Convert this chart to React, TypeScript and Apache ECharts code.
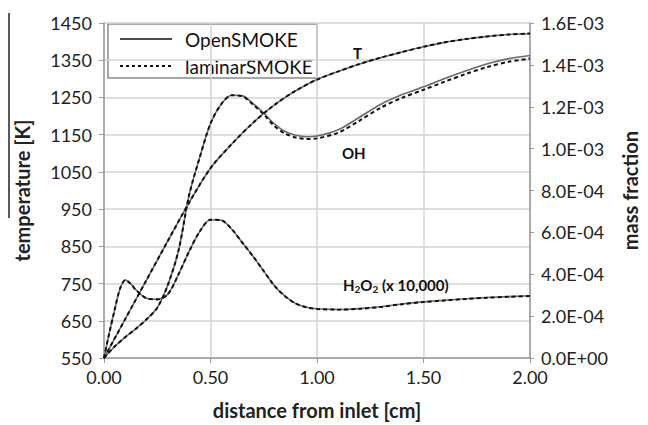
import { useEffect, useRef } from "react";
import * as echarts from "echarts";

// distance from inlet [cm]
const tX = [0, 0.1, 0.2, 0.3, 0.4, 0.5, 0.6, 0.7, 0.8, 0.9, 1.0, 1.1, 1.2, 1.3, 1.4, 1.5, 1.6, 1.7, 1.8, 1.9, 2.0];
const tOpen = [550, 655, 760, 865, 968, 1060, 1125, 1182, 1230, 1268, 1298, 1320, 1340, 1357, 1372, 1386, 1398, 1407, 1414, 1419, 1421];
const tLaminar = [550, 655, 760, 865, 968, 1060, 1125, 1182, 1230, 1268, 1298, 1320, 1340, 1357, 1372, 1386, 1398, 1407, 1414, 1419, 1422];

const ohX = [0, 0.05, 0.1, 0.15, 0.2, 0.25, 0.3, 0.35, 0.4, 0.45, 0.5, 0.55, 0.6, 0.65, 0.7, 0.75, 0.8, 0.85, 0.9, 0.95, 1.0, 1.1, 1.2, 1.3, 1.4, 1.5, 1.6, 1.7, 1.8, 1.9, 2.0];
const ohOpen = [0, 0.55e-4, 1.0e-4, 1.4e-4, 1.85e-4, 2.4e-4, 3.5e-4, 5.14e-4, 7.8e-4, 9.6e-4, 1.12e-3, 1.212e-3, 1.255e-3, 1.252e-3, 1.215e-3, 1.17e-3, 1.118e-3, 1.082e-3, 1.064e-3, 1.057e-3, 1.06e-3, 1.09e-3, 1.15e-3, 1.212e-3, 1.258e-3, 1.295e-3, 1.335e-3, 1.372e-3, 1.405e-3, 1.43e-3, 1.445e-3];
const ohLaminar = [0, 0.55e-4, 1.0e-4, 1.4e-4, 1.85e-4, 2.4e-4, 3.5e-4, 5.14e-4, 7.8e-4, 9.6e-4, 1.12e-3, 1.212e-3, 1.255e-3, 1.25e-3, 1.21e-3, 1.163e-3, 1.108e-3, 1.072e-3, 1.053e-3, 1.046e-3, 1.049e-3, 1.076e-3, 1.134e-3, 1.196e-3, 1.243e-3, 1.281e-3, 1.32e-3, 1.357e-3, 1.39e-3, 1.415e-3, 1.43e-3];

// H2O2 mass fraction (x 10,000)
const h2o2X = [0, 0.025, 0.05, 0.075, 0.1, 0.125, 0.15, 0.2, 0.25, 0.3, 0.35, 0.4, 0.45, 0.5, 0.55, 0.6, 0.65, 0.7, 0.75, 0.8, 0.85, 0.9, 0.95, 1.0, 1.1, 1.2, 1.3, 1.4, 1.5, 1.6, 1.7, 1.8, 1.9, 2.0];
const h2o2Open = [0, 1.2e-4, 2.3e-4, 3.3e-4, 3.72e-4, 3.55e-4, 3.25e-4, 2.85e-4, 2.8e-4, 3.05e-4, 4.0e-4, 5.1e-4, 6.05e-4, 6.6e-4, 6.58e-4, 6.15e-4, 5.5e-4, 4.85e-4, 4.15e-4, 3.45e-4, 2.95e-4, 2.6e-4, 2.42e-4, 2.35e-4, 2.32e-4, 2.36e-4, 2.45e-4, 2.58e-4, 2.68e-4, 2.76e-4, 2.83e-4, 2.89e-4, 2.93e-4, 2.97e-4];
const h2o2Laminar = [0, 1.2e-4, 2.3e-4, 3.3e-4, 3.72e-4, 3.55e-4, 3.25e-4, 2.85e-4, 2.8e-4, 3.05e-4, 4.0e-4, 5.1e-4, 6.05e-4, 6.6e-4, 6.58e-4, 6.15e-4, 5.5e-4, 4.85e-4, 4.15e-4, 3.45e-4, 2.95e-4, 2.6e-4, 2.42e-4, 2.34e-4, 2.31e-4, 2.35e-4, 2.44e-4, 2.57e-4, 2.67e-4, 2.75e-4, 2.82e-4, 2.88e-4, 2.92e-4, 2.96e-4];

const legendNames = ["OpenSMOKE", "laminarSMOKE"];
const xTitle = "distance from inlet [cm]";
const yLeftTitle = "temperature [K]";
const yRightTitle = "mass fraction";

const FONT = "Lato";

function sci(v: number): string {
  if (Math.abs(v) < 1e-12) return "0.0E+00";
  const e = Math.floor(Math.log10(Math.abs(v)) + 1e-9);
  const m = v / Math.pow(10, e);
  const sign = e < 0 ? "-" : "+";
  return m.toFixed(1) + "E" + sign + String(Math.abs(e)).padStart(2, "0");
}

const pairs = (xs: number[], ys: number[]) => xs.map((x, i) => [x, ys[i]]);

export default function App() {
  const ref = useRef<HTMLDivElement>(null);
  useEffect(() => {
    if (!ref.current) return;
    const chart = echarts.init(ref.current, null, { renderer: "svg" });
    const solid = { color: "#6b6b6b", width: 1.6, type: "solid" as const };
    const dashed = { color: "#111", width: 2, type: [4, 3] as any };
    const mkSeries = (name: string, data: number[][], yAxisIndex: number, ls: any) => ({
      name,
      type: "line",
      data,
      yAxisIndex,
      showSymbol: false,
      smooth: 0.3,
      lineStyle: ls,
      silent: true,
      z: ls === dashed ? 4 : 3,
    });
    chart.setOption({
      animation: false,
      backgroundColor: "#fff",
      grid: { left: 104, right: 107, top: 23, bottom: 63 },
      xAxis: {
        type: "value",
        min: 0,
        max: 2,
        interval: 0.5,
        name: xTitle,
        nameLocation: "middle",
        nameGap: 42,
        nameTextStyle: { fontFamily: FONT, fontSize: 20, fontWeight: "bold", color: "#222" },
        axisLine: { show: true, lineStyle: { color: "#9a9a9a", width: 1.5 } },
        axisTick: { show: true, length: 5, lineStyle: { color: "#9a9a9a" } },
        axisLabel: { fontFamily: FONT, fontSize: 18, color: "#222", margin: 10, formatter: (v: number) => v.toFixed(2) },
        splitLine: { show: true, lineStyle: { color: "#d3d3d3", width: 1.5 } },
      },
      yAxis: [
        {
          type: "value",
          min: 550,
          max: 1450,
          interval: 100,
          name: yLeftTitle,
          nameLocation: "middle",
          nameGap: 72,
          nameRotate: 90,
          nameTextStyle: { fontFamily: FONT, fontSize: 20, fontWeight: "bold", color: "#222" },
          axisLine: { show: true, lineStyle: { color: "#9a9a9a", width: 1.5 } },
          axisTick: { show: true, length: 5, lineStyle: { color: "#9a9a9a" } },
          axisLabel: { fontFamily: FONT, fontSize: 18, color: "#222", margin: 12, formatter: (v: number) => String(Math.round(v)) },
          splitLine: { show: true, lineStyle: { color: "#d3d3d3", width: 1.5 } },
        },
        {
          type: "value",
          min: 0,
          max: 0.0016,
          interval: 0.0002,
          position: "right",
          name: yRightTitle,
          nameLocation: "middle",
          nameGap: 90,
          nameRotate: 90,
          nameTextStyle: { fontFamily: FONT, fontSize: 20, fontWeight: "bold", color: "#222" },
          axisLine: { show: true, lineStyle: { color: "#9a9a9a", width: 1.5 } },
          axisTick: { show: true, length: 4, lineStyle: { color: "#9a9a9a" } },
          axisLabel: { fontFamily: FONT, fontSize: 18, color: "#222", margin: 11, formatter: sci },
          splitLine: { show: false },
        },
      ],
      series: [
        mkSeries(legendNames[0] + " T", pairs(tX, tOpen), 0, solid),
        mkSeries(legendNames[0] + " OH", pairs(ohX, ohOpen), 1, solid),
        mkSeries(legendNames[0] + " H2O2", pairs(h2o2X, h2o2Open), 1, solid),
        mkSeries(legendNames[1] + " T", pairs(tX, tLaminar), 0, dashed),
        mkSeries(legendNames[1] + " OH", pairs(ohX, ohLaminar), 1, dashed),
        mkSeries(legendNames[1] + " H2O2", pairs(h2o2X, h2o2Laminar), 1, dashed),
      ],
      graphic: [
        {
          type: "line",
          z: 100,
          shape: { x1: 9, y1: 13, x2: 9, y2: 218 },
          style: { stroke: "#222", lineWidth: 1.5 },
        },
        {
          type: "group",
          z: 100,
          children: [
            { type: "rect", shape: { x: 108, y: 24, width: 209, height: 54 }, style: { fill: "#fff", stroke: "#8a8a8a", lineWidth: 1.5 } },
            { type: "line", shape: { x1: 120, y1: 39, x2: 172, y2: 39 }, style: { stroke: "#111", lineWidth: 1.5 } },
            { type: "line", shape: { x1: 120, y1: 66, x2: 172, y2: 66 }, style: { stroke: "#111", lineWidth: 1.8, lineDash: [3, 3] } },
            { type: "text", x: 185, y: 39, style: { text: legendNames[0], fontFamily: FONT, fontSize: 19, fill: "#111", textVerticalAlign: "middle" } },
            { type: "text", x: 185, y: 66, style: { text: legendNames[1], fontFamily: FONT, fontSize: 19, fill: "#111", textVerticalAlign: "middle" } },
          ],
        },
        { type: "text", z: 100, x: 353, y: 53, style: { text: "T", fontFamily: FONT, fontSize: 15, fontWeight: "bold", fill: "#111", textVerticalAlign: "middle" } },
        { type: "text", z: 100, x: 342, y: 153, style: { text: "OH", fontFamily: FONT, fontSize: 15, fontWeight: "bold", fill: "#111", textVerticalAlign: "middle" } },
        {
          type: "text",
          z: 100,
          x: 343,
          y: 285,
          style: {
            text: "H{s|2}O{s|2} (x 10,000)",
            fontFamily: FONT,
            fontSize: 15,
            fontWeight: "bold",
            fill: "#111",
            textVerticalAlign: "middle",
            rich: {
              s: { fontFamily: FONT, fontSize: 10, fontWeight: "bold", fill: "#111", padding: [7, 0, 0, 0] },
            },
          },
        },
      ],
    });
    return () => chart.dispose();
  }, []);
  return <div ref={ref} style={{ width: 648, height: 425, position: "fixed", left: 0, top: 0 }} />;
}
